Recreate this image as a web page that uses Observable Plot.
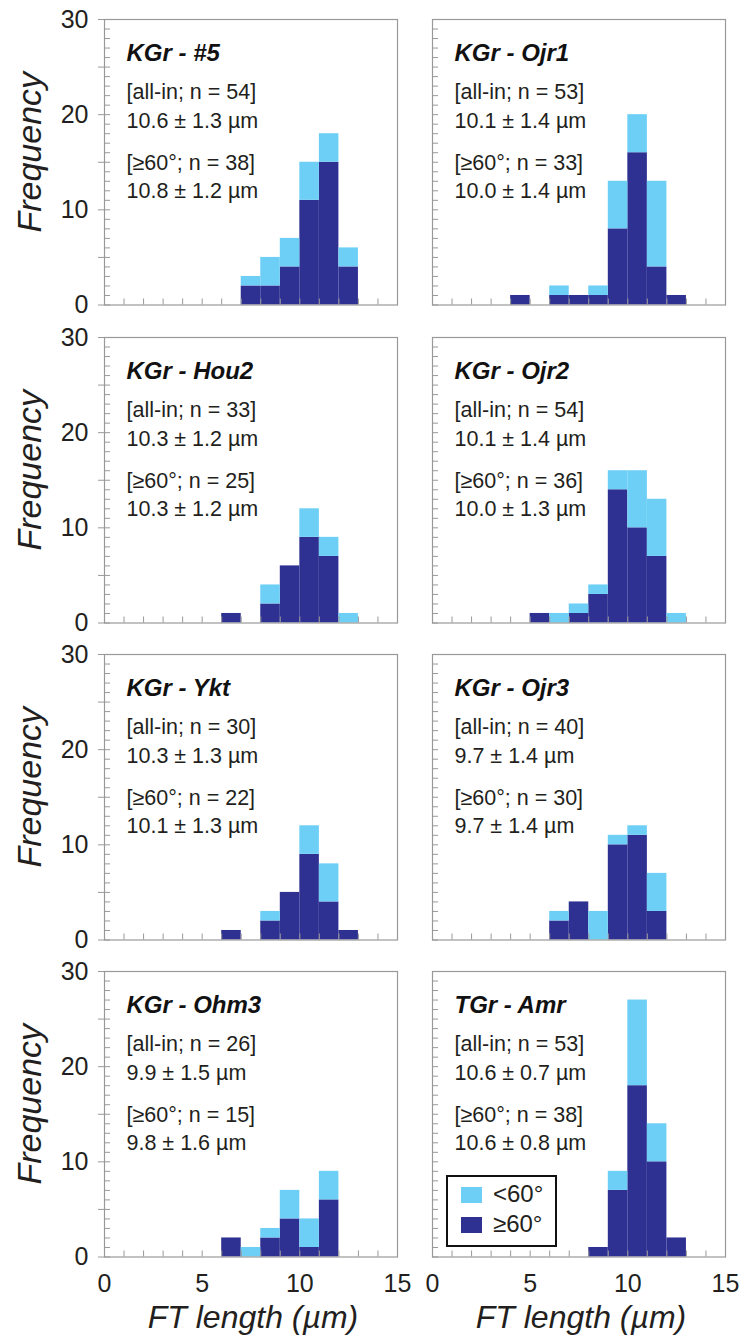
<!DOCTYPE html>
<html><head><meta charset="utf-8">
<script src="https://cdn.jsdelivr.net/npm/d3@7"></script>
<script src="https://cdn.jsdelivr.net/npm/@observablehq/plot@0.6"></script>
<style>
body{margin:0;background:#fff;}
#chart{position:relative;width:744px;height:1340px;font-family:"Liberation Sans",Arial,sans-serif;overflow:hidden;}
#chart svg{position:absolute;background:transparent;overflow:visible;}
.legend{position:absolute;left:446px;top:1175px;width:107px;height:68px;border:2px solid #111;background:#fff;}
.legend .sw{position:absolute;left:13px;width:21px;height:16px;}
.legend .lb{position:absolute;left:45px;font-size:24px;color:#231f20;line-height:24px;}
</style></head><body><div id="chart"></div>
<script>
// ---- data ----
const binStart = [0,1,2,3,4,5,6,7,8,9,10,11,12,13,14];
const binWidth = 1;
const xTickLabels = [0,5,10,15];
const yTickLabels = [0,10,20,30];
const sampleNames = ["KGr - #5","KGr - Ojr1","KGr - Hou2","KGr - Ojr2","KGr - Ykt","KGr - Ojr3","KGr - Ohm3","TGr - Amr"];
const nAllIn   = [54,53,33,54,30,40,26,53];
const meanAllIn = ["10.6 ± 1.3","10.1 ± 1.4","10.3 ± 1.2","10.1 ± 1.4","10.3 ± 1.3","9.7 ± 1.4","9.9 ± 1.5","10.6 ± 0.7"];
const nHigh    = [38,33,25,36,22,30,15,38];
const meanHigh = ["10.8 ± 1.2","10.0 ± 1.4","10.3 ± 1.2","10.0 ± 1.3","10.1 ± 1.3","9.7 ± 1.4","9.8 ± 1.6","10.6 ± 0.8"];

// per-bin counts: all tracks (total) and tracks >= 60 deg
const all_5    = [0,0,0,0,0,0,0,3,5,7,15,18,6,0,0];
const high_5   = [0,0,0,0,0,0,0,2,2,4,11,15,4,0,0];
const all_Ojr1 = [0,0,0,0,1,0,2,1,2,13,20,13,1,0,0];
const high_Ojr1= [0,0,0,0,1,0,1,1,1,8,16,4,1,0,0];
const all_Hou2 = [0,0,0,0,0,0,1,0,4,6,12,9,1,0,0];
const high_Hou2= [0,0,0,0,0,0,1,0,2,6,9,7,0,0,0];
const all_Ojr2 = [0,0,0,0,0,1,1,2,4,16,16,13,1,0,0];
const high_Ojr2= [0,0,0,0,0,1,0,1,3,14,10,7,0,0,0];
const all_Ykt  = [0,0,0,0,0,0,1,0,3,5,12,8,1,0,0];
const high_Ykt = [0,0,0,0,0,0,1,0,2,5,9,4,1,0,0];
const all_Ojr3 = [0,0,0,0,0,0,3,4,3,11,12,7,0,0,0];
const high_Ojr3= [0,0,0,0,0,0,2,4,0,10,11,3,0,0,0];
const all_Ohm3 = [0,0,0,0,0,0,2,1,3,7,4,9,0,0,0];
const high_Ohm3= [0,0,0,0,0,0,2,0,2,4,1,6,0,0,0];
const all_Amr  = [0,0,0,0,0,0,0,0,1,9,27,14,2,0,0];
const high_Amr = [0,0,0,0,0,0,0,0,1,7,18,10,2,0,0];

const countsAll  = [all_5, all_Ojr1, all_Hou2, all_Ojr2, all_Ykt, all_Ojr3, all_Ohm3, all_Amr];
const countsHigh = [high_5, high_Ojr1, high_Hou2, high_Ojr2, high_Ykt, high_Ojr3, high_Ohm3, high_Amr];

// ---- style ----
const LIGHT = "#6dcff6", DARK = "#2e3192", GRAY = "#999999", INK = "#231f20";
const FONT = "Liberation Sans, Arial, sans-serif";
const W = 293, H = 285.5;
const rowTops = [18.5, 336.5, 654, 971];
const colLefts = [104, 432];

const chart = document.getElementById("chart");

sampleNames.forEach((name, i) => {
  const row = Math.floor(i / 2), col = i % 2;
  const isLeft = col === 0, isBottom = row === 3;
  const mL = isLeft ? 104 : 15, mR = isLeft ? 20 : 19, mT = 10, mB = isBottom ? 86 : 10;
  const rows = binStart.map((b, k) => ({x1: b, x2: b + binWidth, high: countsHigh[i][k], total: countsAll[i][k]}))
    .filter(d => d.total > 0);
  const lines = [
    {t: `[all-in; n = ${nAllIn[i]}]`, dy: 79},
    {t: `${meanAllIn[i]} µm`, dy: 108},
    {t: `[≥60°; n = ${nHigh[i]}]`, dy: 150},
    {t: `${meanHigh[i]} µm`, dy: 178}
  ];
  const marks = [
    Plot.rect(rows, {x1: "x1", x2: "x2", y1: 0, y2: "high", fill: DARK, inset: 0}),
    Plot.rect(rows, {x1: "x1", x2: "x2", y1: "high", y2: "total", fill: LIGHT, inset: 0}),
    Plot.axisY({ticks: d3.range(0, 31, 1), tickSize: -6, stroke: GRAY, fill: "none", label: null}),
    Plot.axisX({ticks: binStart, tickSize: -6, stroke: GRAY, fill: "none", label: null}),
    Plot.frame({stroke: GRAY, strokeWidth: 1.2}),
    Plot.text([name], {text: d => d, frameAnchor: "top-left", dx: 22, dy: 41, lineAnchor: "bottom", textAnchor: "start",
      fontSize: 24, fontWeight: "bold", fontStyle: "italic", fill: "#111"}),
    ...lines.map(l => Plot.text([l.t], {text: d => d, frameAnchor: "top-left", dx: 22, dy: l.dy, lineAnchor: "bottom",
      textAnchor: "start", fontSize: 21.5, fill: INK}))
  ];
  if (isLeft) {
    marks.push(
      Plot.axisY({ticks: d3.range(0, 31, 5), tickSize: 6, stroke: GRAY, fill: "none", label: null}),
      Plot.axisY({ticks: yTickLabels, tickSize: 0, tickPadding: 16, fontSize: 25, fill: INK, label: null}),
      Plot.text(["Frequency"], {text: d => d, frameAnchor: "left", textAnchor: "middle", lineAnchor: "middle",
        dx: -74, dy: -10, rotate: -90, fontSize: 34, fontStyle: "italic", fill: INK})
    );
  }
  if (isBottom) {
    marks.push(
      Plot.axisX({ticks: xTickLabels, tickSize: 0, tickPadding: 17, fontSize: 25, fill: INK, label: null}),
      Plot.text(["FT length (µm)"], {text: d => d, frameAnchor: "bottom", dx: 2, dy: 70.5, lineAnchor: "bottom",
        fontSize: 32, fontStyle: "italic", fill: INK})
    );
  }
  const svg = Plot.plot({
    width: mL + W + mR, height: mT + H + mB,
    marginLeft: mL, marginRight: mR, marginTop: mT, marginBottom: mB,
    x: {domain: [0, 15]}, y: {domain: [0, 30]},
    style: {fontFamily: FONT, background: "transparent", overflow: "visible"},
    marks
  });
  svg.style.left = (colLefts[col] - mL) + "px";
  svg.style.top = (rowTops[row] - mT) + "px";
  chart.appendChild(svg);
});

// legend (inside the TGr - Amr panel)
const legendItems = [{label: "<60°", color: LIGHT, top: 10}, {label: "≥60°", color: DARK, top: 40}];
const lg = document.createElement("div");
lg.className = "legend";
legendItems.forEach(it => {
  const sw = document.createElement("div");
  sw.className = "sw"; sw.style.top = it.top + "px"; sw.style.background = it.color;
  const lb = document.createElement("div");
  lb.className = "lb"; lb.style.top = (it.top - 5) + "px"; lb.textContent = it.label;
  lg.appendChild(sw); lg.appendChild(lb);
});
chart.appendChild(lg);
</script></body></html>
